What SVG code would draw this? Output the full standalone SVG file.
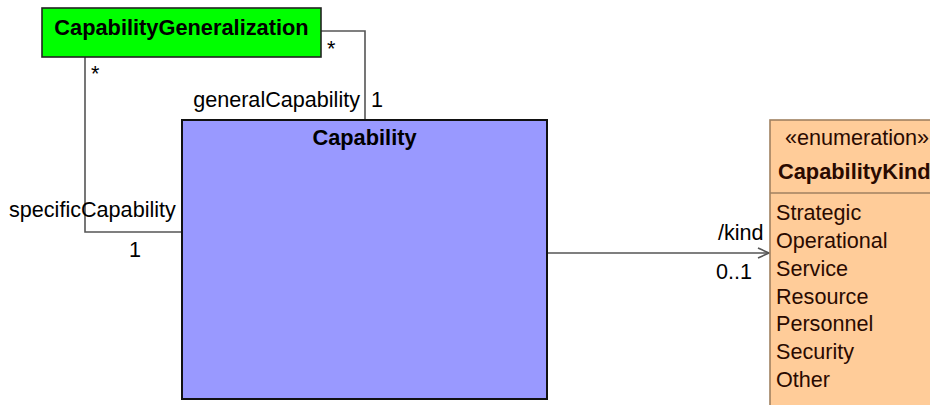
<svg xmlns="http://www.w3.org/2000/svg" width="930" height="405" viewBox="0 0 930 405">
<style>
text{font-family:"Liberation Sans",Arial,sans-serif;font-size:21.6px;fill:#000}
.b{font-weight:bold;font-size:21.8px}
.m{text-anchor:middle}
.e{fill:#2a0a00}
.conn{fill:none;stroke:#555;stroke-width:1.6}
</style>
<defs>
<marker id="open" markerWidth="14" markerHeight="14" refX="12" refY="6" orient="auto" markerUnits="userSpaceOnUse">
<path d="M1,1 L12,6 L1,11" fill="none" stroke="#555" stroke-width="1.6"/>
</marker>
</defs>
<rect width="930" height="405" fill="#fff"/>
<g id="connectors">
<path class="conn" d="M321,31 H365 V120"/>
<path class="conn" d="M85,57 V232 H182"/>
<path class="conn" d="M547,253 H769" marker-end="url(#open)"/>
<text x="327" y="56">*</text>
<text x="91" y="81">*</text>
<text x="360" y="107" text-anchor="end">generalCapability</text>
<text x="371" y="107">1</text>
<text x="9" y="217">specificCapability</text>
<text x="129" y="257">1</text>
<text x="718" y="240">/kind</text>
<text x="716" y="279">0..1</text>
</g>
<g id="CapabilityGeneralization">
<rect x="42" y="8" width="279" height="49" fill="#00ff00" stroke="#222" stroke-width="1.6"/>
<text x="181.5" y="35" class="b m">CapabilityGeneralization</text>
</g>
<g id="Capability">
<rect x="182" y="120" width="365" height="279" fill="#9999ff" stroke="#111" stroke-width="2"/>
<text x="364.5" y="145" class="b m">Capability</text>
</g>
<g id="CapabilityKind">
<rect x="770" y="120" width="170" height="300" fill="#ffcc99" stroke="#a08060" stroke-width="1.6"/>
<line x1="770" y1="193" x2="930" y2="193" stroke="#a08060" stroke-width="1.6"/>
<text x="785" y="145" class="e">«enumeration»</text>
<text x="778" y="179" class="b e">CapabilityKind</text>
<text x="776" y="220" class="e">Strategic</text>
<text x="776" y="248" class="e">Operational</text>
<text x="776" y="276" class="e">Service</text>
<text x="776" y="304" class="e">Resource</text>
<text x="776" y="331" class="e">Personnel</text>
<text x="776" y="359" class="e">Security</text>
<text x="776" y="387" class="e">Other</text>
</g>
</svg>
